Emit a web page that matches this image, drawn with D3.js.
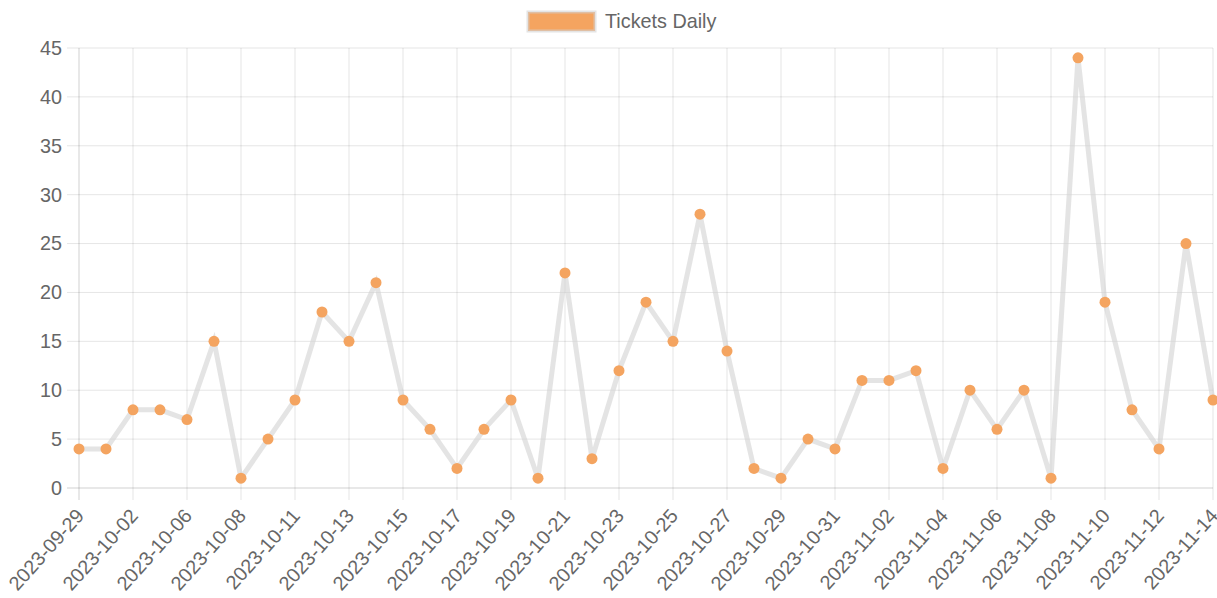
<!DOCTYPE html>
<html>
<head>
<meta charset="utf-8">
<script src="https://cdn.jsdelivr.net/npm/d3@7"></script>
<style>
  body { margin: 0; background: #fff; }
  svg text { font-family: "Liberation Sans", Arial, Helvetica, sans-serif; fill: #666; }
</style>
</head>
<body>
<svg id="chart" width="1217" height="598"></svg>
<script>
const dates = [
  "2023-09-29", "2023-10-01", "2023-10-02", "2023-10-04", "2023-10-06", "2023-10-07",
  "2023-10-08", "2023-10-10", "2023-10-11", "2023-10-12", "2023-10-13", "2023-10-14",
  "2023-10-15", "2023-10-16", "2023-10-17", "2023-10-18", "2023-10-19", "2023-10-20",
  "2023-10-21", "2023-10-22", "2023-10-23", "2023-10-24", "2023-10-25", "2023-10-26",
  "2023-10-27", "2023-10-28", "2023-10-29", "2023-10-30", "2023-10-31", "2023-11-01",
  "2023-11-02", "2023-11-03", "2023-11-04", "2023-11-05", "2023-11-06", "2023-11-07",
  "2023-11-08", "2023-11-09", "2023-11-10", "2023-11-11", "2023-11-12", "2023-11-13",
  "2023-11-14"
];
const tickets = [
  4, 4, 8, 8, 7, 15, 1, 5, 9, 18, 15, 21, 9, 6, 2, 6, 9, 1, 22, 3, 12, 19,
  15, 28, 14, 2, 1, 5, 4, 11, 11, 12, 2, 10, 6, 10, 1, 44, 19, 8, 4, 25, 9
];
const yTicks = [0, 5, 10, 15, 20, 25, 30, 35, 40, 45];
const seriesName = "Tickets Daily";

const pointColor = "#f4a460";
const lineColor = "rgba(210,210,210,0.6)";
const gridColor = "rgba(0,0,0,0.1)";
const fontSize = 19.8;

const svg = d3.select("#chart");
const plot = { left: 79, right: 1213, top: 48, bottom: 488 };

const x = d3.scalePoint().domain(dates).range([plot.left, plot.right]);
const y = d3.scaleLinear().domain([0, 45]).range([plot.bottom, plot.top]);

// only every other label is shown (auto skip), grid lines follow them
const shownDates = dates.filter((d, i) => i % 2 === 0);

// horizontal grid + y labels
const yg = svg.append("g");
yg.selectAll("line").data(yTicks).join("line")
  .attr("x1", plot.left - 12).attr("x2", plot.right)
  .attr("y1", d => y(d)).attr("y2", d => y(d))
  .attr("stroke", (d) => d === 0 ? "rgba(0,0,0,0.18)" : gridColor)
  .attr("stroke-width", 1);
yg.selectAll("text").data(yTicks).join("text")
  .attr("x", plot.left - 17).attr("y", d => y(d))
  .attr("dy", "0.35em")
  .attr("text-anchor", "end")
  .attr("font-size", fontSize)
  .text(d => d);

// vertical grid + x labels
const xg = svg.append("g");
xg.selectAll("line").data(shownDates).join("line")
  .attr("x1", d => x(d)).attr("x2", d => x(d))
  .attr("y1", plot.top).attr("y2", plot.bottom + 12)
  .attr("stroke", (d, i) => i === 0 ? "rgba(0,0,0,0.18)" : gridColor)
  .attr("stroke-width", 1);
xg.selectAll("text").data(shownDates).join("text")
  .attr("transform", d => `translate(${x(d) + 1},${plot.bottom + 24}) rotate(-48)`)
  .attr("text-anchor", "end")
  .attr("dy", "0.35em")
  .attr("font-size", fontSize)
  .text(d => d);

// line
const line = d3.line()
  .x((d, i) => x(dates[i]))
  .y(d => y(d));
svg.append("path")
  .datum(tickets)
  .attr("d", line)
  .attr("fill", "none")
  .attr("stroke", lineColor)
  .attr("stroke-width", 5)
  .attr("stroke-linejoin", "miter");

// points
svg.append("g").selectAll("circle").data(tickets).join("circle")
  .attr("cx", (d, i) => x(dates[i]))
  .attr("cy", d => y(d))
  .attr("r", 5.5)
  .attr("fill", pointColor);

// legend
const lg = svg.append("g");
lg.append("rect")
  .attr("x", 528).attr("y", 12)
  .attr("width", 67).attr("height", 19)
  .attr("fill", pointColor)
  .attr("stroke", lineColor)
  .attr("stroke-width", 3);
lg.append("text")
  .attr("x", 605).attr("y", 21.5)
  .attr("dy", "0.35em")
  .attr("font-size", fontSize)
  .text(seriesName);
</script>
</body>
</html>
